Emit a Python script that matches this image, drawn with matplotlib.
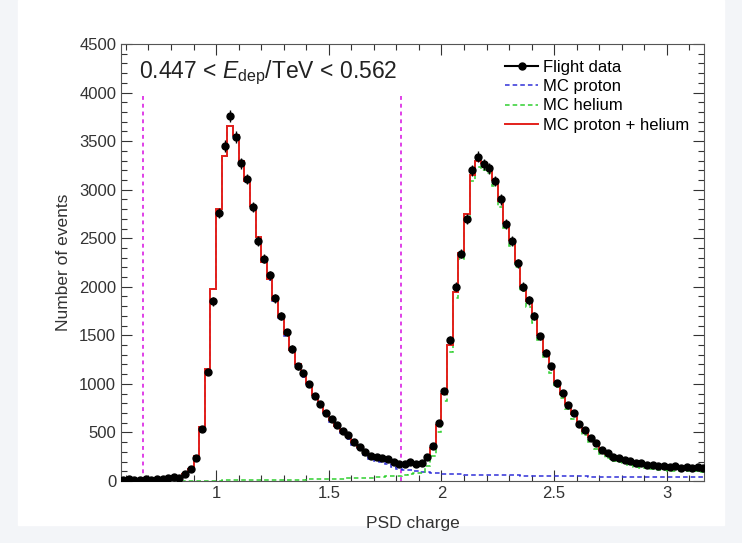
import numpy as np
import matplotlib.pyplot as plt
from matplotlib.lines import Line2D
from matplotlib.patches import Rectangle
from matplotlib.ticker import MultipleLocator

plt.rcParams['font.family'] = ['Liberation Sans', 'DejaVu Sans']
plt.rcParams['mathtext.fontset'] = 'custom'
plt.rcParams['mathtext.rm'] = 'Liberation Sans'
plt.rcParams['mathtext.it'] = 'Liberation Sans:italic'

# PSD charge binning
bin_lo = 0.575
bin_w = 0.025
n_bins = 104
edges = bin_lo + bin_w * np.arange(n_bins + 1)
centers = edges[:-1] + bin_w / 2

# charge selection cuts
cut_lo = 0.676
cut_hi = 1.82
cut_top = 4000

# MC proton, events per bin
mc_proton = [15, 15, 14, 15, 15, 17, 19, 22, 27, 36, 47, 74,
             123, 257, 557, 1146, 1975,
             2795, 3344, 3653, 3553, 3292, 3082, 2821, 2501, 2250, 2070,
             1849, 1678, 1498, 1337, 1186, 1075, 994, 873, 772, 691,
             610, 548, 496, 434, 372, 315, 267, 229, 205, 191, 172, 148,
             125, 115, 112, 105, 95, 90, 85, 80, 76, 72,
             70, 68, 66, 65, 64, 63, 62, 61, 60, 59,
             58, 57, 56, 55, 54, 53, 52, 51, 50, 50,
             49, 48, 48, 47, 46, 46, 45, 45, 44, 44,
             43, 43, 42, 42, 41, 41, 40, 40, 40, 39,
             39, 39, 38, 38, 38]

# MC helium, events per bin
mc_helium = [0, 0, 0, 0, 0, 0, 0, 0, 0, 0, 1, 1,
             2, 3, 3, 4, 5,
             5, 6, 7, 7, 8, 8, 9, 9, 10, 10,
             11, 12, 12, 13, 14, 15, 16, 17, 18, 19,
             20, 22, 24, 26, 28, 30, 33, 36, 40, 44, 48, 52,
             55, 60, 73, 80, 85, 150, 255, 500, 824, 1328,
             1880, 2282, 2684, 3085, 3236, 3207, 3168, 3039, 2820, 2601,
             2422, 2203, 1954, 1795, 1626, 1447, 1278, 1109, 970, 850,
             741, 642, 552, 473, 404, 334, 275, 235, 206, 191,
             182, 162, 148, 136, 129, 121, 116, 110, 107, 106,
             103, 101, 100, 98, 97]

# flight data, events per bin
flight = [12, 17, 10, 14, 16, 11, 20, 17, 26, 44, 36, 68,
          120, 240, 540, 1120, 1850,
          2760, 3450, 3760, 3540, 3270, 3110, 2820, 2470, 2290, 2120,
          1880, 1700, 1530, 1360, 1180, 1110, 1000, 880, 790, 700,
          640, 580, 520, 470, 400, 345, 295, 262, 245, 238, 222, 198,
          178, 172, 196, 178, 190, 245, 360, 600, 930, 1450,
          2000, 2340, 2700, 3200, 3340, 3260, 3220, 3090, 2900, 2650,
          2470, 2240, 2000, 1860, 1700, 1490, 1320, 1180, 1010, 910,
          780, 700, 590, 530, 440, 390, 315, 285, 245, 240,
          220, 210, 185, 182, 165, 166, 150, 155, 142, 150,
          138, 144, 133, 140, 130]

mc_proton = np.array(mc_proton, dtype=float)
mc_helium = np.array(mc_helium, dtype=float)
mc_total = mc_proton + mc_helium
flight = np.array(flight, dtype=float)

fig = plt.figure(figsize=(7.42, 5.43), dpi=100, facecolor='#f3f5f8')
fig.patches.append(Rectangle((18 / 742, 18 / 543), 706 / 742, 525 / 543,
                             transform=fig.transFigure, color='white', zorder=-1))
ax = fig.add_axes([121 / 742, 1 - 481 / 543, 583 / 742, 437 / 543])

red = '#e3201b'
blue = '#3030d8'
green = '#30d030'
magenta = '#e040e8'

ax.stairs(mc_proton, edges, baseline=None, color=blue, lw=1.1, ls=(0, (3, 2)), zorder=2)
ax.stairs(mc_helium, edges, baseline=None, color=green, lw=1.1, ls=(0, (3, 2)), zorder=2)
ax.stairs(mc_total, edges, baseline=None, color=red, lw=1.4, zorder=3)
ax.errorbar(centers, flight, yerr=np.sqrt(flight), fmt='o', color='black',
            ms=5, elinewidth=1, capsize=0, zorder=4)

for c in (cut_lo, cut_hi):
    ax.plot([c, c], [0, cut_top], color=magenta, lw=1.4, ls=(0, (2, 2)), zorder=1)

ax.set_xlim(0.578, 3.165)
ax.set_ylim(0, 4500)
ax.xaxis.set_major_locator(MultipleLocator(0.5))
ax.xaxis.set_minor_locator(MultipleLocator(0.1))
ax.yaxis.set_major_locator(MultipleLocator(500))
ax.yaxis.set_minor_locator(MultipleLocator(100))
ax.xaxis.set_major_formatter(plt.FuncFormatter(lambda v, p: f'{v:g}'))
ax.tick_params(which='both', direction='in', top=True, right=True,
               labelsize=12, colors='#333333', width=0.8)
ax.tick_params(which='major', length=8)
ax.tick_params(which='minor', length=4)
for s in ax.spines.values():
    s.set_color('#555555')
    s.set_linewidth(0.8)

ax.set_xlabel('PSD charge', fontsize=12.5, color='#333333', labelpad=11)
ax.set_ylabel('Number of events', fontsize=12.5, color='#333333', labelpad=6)

ax.text(0.031, 0.935, r'0.447 < $E_{\rm dep}$/TeV < 0.562', transform=ax.transAxes,
        fontsize=16.5, color='#222222', va='center', ha='left')

handles = [
    Line2D([], [], color='black', marker='o', ms=5, lw=1.5),
    Line2D([], [], color=blue, lw=1.1, ls=(0, (3, 2))),
    Line2D([], [], color=green, lw=1.1, ls=(0, (3, 2))),
    Line2D([], [], color=red, lw=1.4),
]
labels = ['Flight data', 'MC proton', 'MC helium', 'MC proton + helium']
ax.legend(handles, labels, loc='upper right', bbox_to_anchor=(0.995, 0.99),
          frameon=False, fontsize=12, handlelength=2.0, handletextpad=0.3,
          labelspacing=0.25, borderaxespad=0.3)

fig.savefig('out.png', dpi=100, facecolor=fig.get_facecolor())
